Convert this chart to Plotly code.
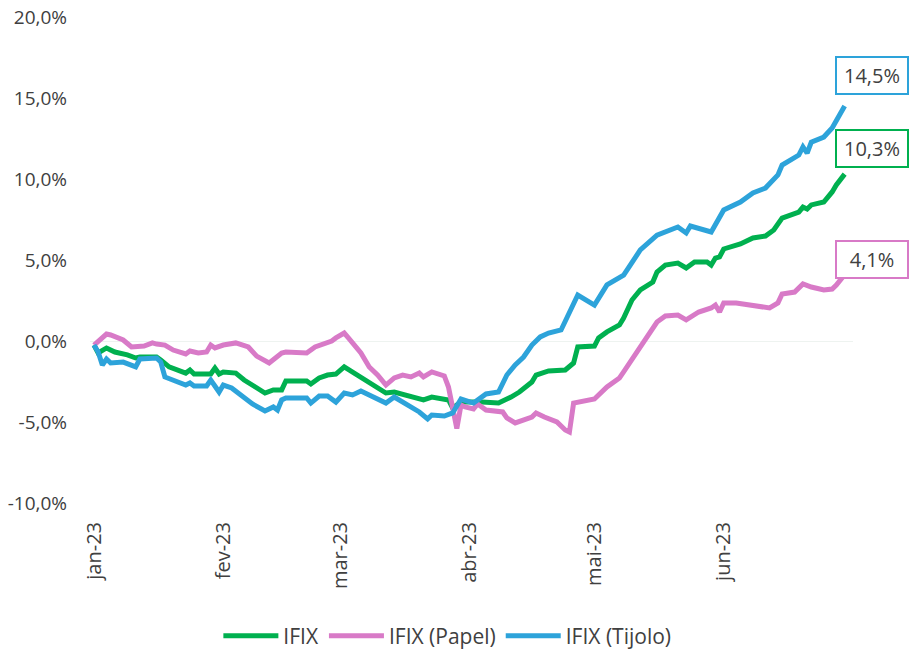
import pandas as pd
import plotly.graph_objects as go

# Dias corridos desde 01/01/2023 e retorno acumulado (%)
ifix_dias = [0, 1, 3, 5, 8, 10, 11, 15, 16, 18, 22, 23, 24, 28, 29, 30, 31, 34, 36, 39, 41, 43, 45, 46,
             51, 52, 54, 56, 58, 60, 62, 64, 66, 68, 70, 72, 75, 77, 79, 81, 82, 85, 86, 88, 93, 97,
             100, 102, 105, 106, 109, 113, 115, 116, 120, 121, 123, 126, 127, 129, 131, 134, 135, 137,
             140, 142, 144, 147, 148, 149, 150, 151, 155, 158, 161, 163, 165, 169, 170, 171, 172, 175,
             177, 178, 180]
ifix_valores = [-0.25, -0.74, -0.43, -0.68, -0.86, -1.05, -0.99, -0.99, -1.17, -1.60, -1.98, -1.79,
                -2.04, -2.04, -1.67, -2.04, -1.91, -1.98, -2.41, -2.84, -3.21, -3.02, -3.02, -2.47,
                -2.47, -2.65, -2.28, -2.10, -2.04, -1.60, -1.91, -2.22, -2.59, -2.90, -3.21, -3.15,
                -3.33, -3.46, -3.64, -3.46, -3.52, -3.64, -4.14, -3.77, -3.77, -3.83,
                -3.46, -3.15, -2.53, -2.10, -1.85, -1.79, -1.36, -0.37, -0.31, 0.19, 0.56, 0.99, 1.42,
                2.53, 3.15, 3.64, 4.26, 4.69, 4.81, 4.51, 4.88, 4.88, 4.69, 5.12, 5.19, 5.68, 5.99,
                6.36, 6.48, 6.85, 7.59, 7.96, 8.27, 8.15, 8.40, 8.58, 9.20, 9.63, 10.3]

papel_dias = [0, 3, 4, 7, 9, 12, 14, 15, 17, 19, 22, 23, 25, 27, 28, 29, 31, 34, 37, 39, 42, 43, 45, 46,
              51, 53, 57, 58, 60, 61, 64, 66, 68, 70, 72, 74, 76, 78, 79, 81, 84, 85, 86, 87, 88, 89,
              91, 92, 94, 98, 99, 101, 105, 106, 108, 111, 113, 114, 115, 120, 123, 126, 127, 131,
              135, 137, 140, 142, 145, 148, 149, 150, 151, 154, 158, 162, 164, 165, 168, 170, 172,
              175, 177, 178, 180]
papel_valores = [-0.25, 0.43, 0.37, 0.06, -0.37, -0.31, -0.12, -0.19, -0.25, -0.56, -0.80, -0.62,
                 -0.74, -0.68, -0.25, -0.43, -0.25, -0.12, -0.37, -0.93, -1.36, -1.17, -0.74, -0.68,
                 -0.74, -0.37, 0.0, 0.19, 0.49, 0.19, -0.74, -1.60, -2.10, -2.72, -2.28, -2.10, -2.22,
                 -1.98, -2.22, -1.91, -2.16, -2.84, -4.26, -5.40, -3.95, -4.07,
                 -4.20, -3.89, -4.26, -4.38, -4.75, -5.06, -4.69, -4.44, -4.69, -5.00, -5.49, -5.62,
                 -3.83, -3.58, -2.84, -2.28, -1.91, -0.37, 1.17, 1.54, 1.60, 1.30, 1.79, 2.04, 2.22,
                 1.79, 2.35, 2.35, 2.22, 2.04, 2.35, 2.90, 3.02, 3.52, 3.33, 3.15, 3.21, 3.46, 4.1]

tijolo_dias = [0, 1, 2, 3, 4, 7, 10, 11, 15, 16, 17, 19, 22, 23, 24, 27, 28, 30, 31, 33, 35, 38, 41,
               43, 44, 45, 46, 51, 52, 54, 56, 58, 60, 62, 64, 66, 70, 72, 75, 78, 80, 81, 84, 86, 88,
               91, 94, 97, 99, 101, 103, 105, 107, 109, 112, 114, 116, 120, 123, 127, 129, 131, 135,
               137, 140, 142, 143, 148, 150, 151, 155, 158, 161, 164, 165, 169, 170, 171, 172, 175,
               177, 178, 180]
tijolo_valores = [-0.25, -0.68, -1.48, -1.11, -1.36, -1.30, -1.60, -1.11, -1.05, -1.30, -2.22, -2.41,
                  -2.72, -2.59, -2.78, -2.78, -2.41, -3.15, -2.72, -2.90, -3.33, -3.89, -4.32, -4.07,
                  -4.26, -3.64, -3.52, -3.52, -3.83, -3.40, -3.40, -3.77, -3.21, -3.33, -3.09, -3.33,
                  -3.83, -3.46, -3.95, -4.38, -4.81, -4.57, -4.63, -4.44, -3.58, -3.83, -3.27, -3.15,
                  -2.10, -1.48, -0.99, -0.25, 0.25, 0.49, 0.68, 1.79, 2.84, 2.22, 3.46, 4.07, 4.81,
                  5.62, 6.54, 6.73, 7.04, 6.67, 7.10, 6.73, 7.59, 8.09, 8.58, 9.14, 9.44, 10.25, 10.86,
                  11.48, 11.98, 11.60, 12.28, 12.59, 13.15, 13.64, 14.5]

series_nomes = ["IFIX", "IFIX (Papel)", "IFIX (Tijolo)"]
meses_rotulos = ["jan-23", "fev-23", "mar-23", "abr-23", "mai-23", "jun-23"]
meses_datas = ["2023-01-01", "2023-02-01", "2023-03-01", "2023-04-01", "2023-05-01", "2023-06-01"]
y_ticks = [-10, -5, 0, 5, 10, 15, 20]
y_rotulos = [f"{v:.1f}%".replace(".", ",") for v in y_ticks]

cores = ["#00B04F", "#D87AC7", "#2DA3DA"]
base = pd.Timestamp("2023-01-01")
fonte = "Open Sans"


def datas(dias):
    return [base + pd.Timedelta(days=d) for d in dias]


fig = go.Figure()
dados = [(ifix_dias, ifix_valores), (papel_dias, papel_valores), (tijolo_dias, tijolo_valores)]
for nome, (d, v), cor in zip(series_nomes, dados, cores):
    fig.add_trace(go.Scatter(x=datas(d), y=v, mode="lines", name=nome,
                             line=dict(color=cor, width=5)))

# Rótulos finais (posição em coordenadas do papel)
ann_y = {"IFIX": 0.730, "IFIX (Papel)": 0.502, "IFIX (Tijolo)": 0.880}
for nome, (d, v), cor in zip(series_nomes, dados, cores):
    fig.add_annotation(x=1.025, y=ann_y[nome], xref="paper", yref="paper",
                       xanchor="center", yanchor="middle",
                       text=f"{v[-1]:.1f}%".replace(".", ","), showarrow=False,
                       font=dict(size=20, color="#404040", family=fonte),
                       bordercolor=cor, borderwidth=2, bgcolor="white",
                       width=68, height=33)

fig.update_layout(
    width=913, height=653,
    margin=dict(l=90, r=60, t=17, b=150),
    paper_bgcolor="white", plot_bgcolor="white",
    separators=",.",
    font=dict(family=fonte, color="#404040", size=17),
    showlegend=True,
    legend=dict(orientation="h", xref="container", yref="container", x=0.49, y=0.026,
                xanchor="center", yanchor="middle", font=dict(size=21, color="#404040"),
                itemwidth=55, tracegroupgap=0),
    xaxis=dict(type="date", automargin=False,
               range=[base - pd.Timedelta(days=0.96), base + pd.Timedelta(days=182)],
               tickvals=meses_datas, ticktext=meses_rotulos, tickangle=-90,
               showgrid=False, zeroline=False, showline=False, ticks="",
               ticklabelstandoff=14,
               tickfont=dict(size=20, color="#404040")),
    yaxis=dict(range=[-10, 20], tickvals=y_ticks, ticktext=y_rotulos, automargin=False,
               showgrid=False, zeroline=True, zerolinecolor="#EEF3F0", zerolinewidth=1,
               showline=False, ticks="", ticklabelstandoff=22,
               tickfont=dict(size=19, color="#404040")),
)

fig.write_html("out.html", config={"displayModeBar": False},
               post_script="document.body.style.margin='0';")
